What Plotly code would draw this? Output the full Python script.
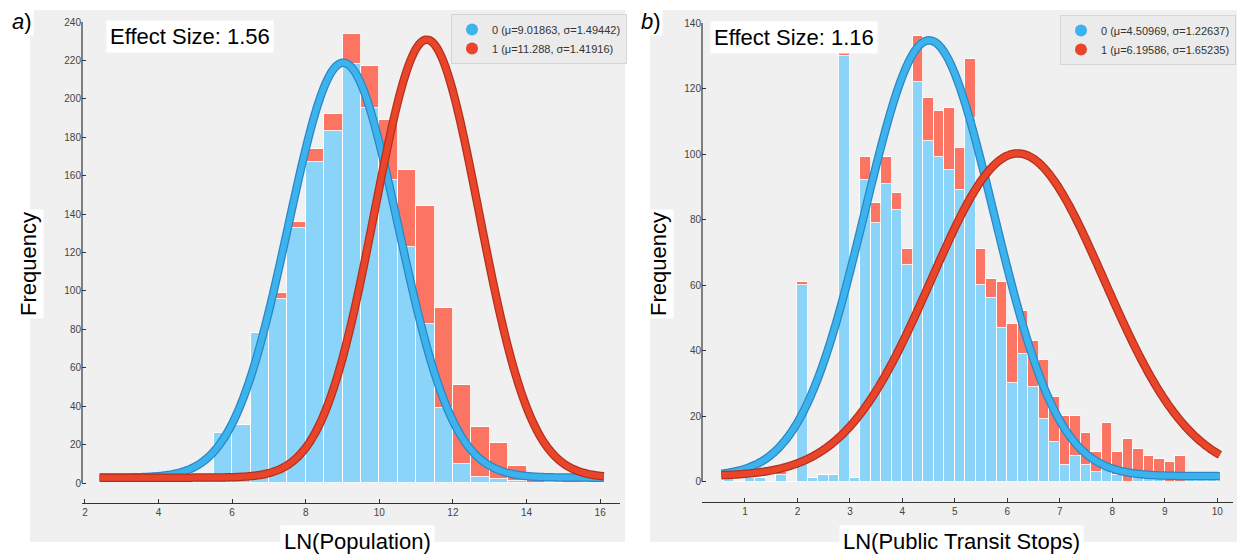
import numpy as np
import plotly.graph_objects as go

W, H = 1237, 556

# ---------------- Panel a: LN(Population) ----------------
a_bin_start = [5.0, 5.5, 6.0, 6.5, 7.0, 7.5, 8.0, 8.5, 9.0, 9.5, 10.0,
               10.5, 11.0, 11.5, 12.0, 12.5, 13.0, 13.5, 14.0, 14.5, 15.0, 15.5]
a_bin_width = 0.5
a_blue = [4, 26, 30, 78, 96, 133, 167, 183, 218, 195, 158,
          123, 83, 39, 10, 3, 2, 1, 0, 0, 0, 1]
a_red = [0, 0, 0, 0, 3, 3, 7, 9, 16, 22, 31,
         40, 61, 52, 41, 26, 19, 8, 2, 0, 1, 0]
a_mu = [9.01863, 11.288]
a_sigma = [1.49442, 1.41916]
a_peak = [216, 228]
a_offset = 2.8
a_curve_range = [2.4, 16.1]
a_xticks = [2, 4, 6, 8, 10, 12, 14, 16]
a_yticks = list(range(0, 241, 20))
a_names = ["0 (\u03bc=9.01863, \u03c3=1.49442)", "1 (\u03bc=11.288, \u03c3=1.41916)"]

# ---------------- Panel b: LN(Public Transit Stops) ----------------
b_bin_start = [0.6, 0.8, 1.0, 1.2, 1.4, 1.6, 1.8, 2.0, 2.2, 2.4, 2.6, 2.8, 3.0,
               3.2, 3.4, 3.6, 3.8, 4.0, 4.2, 4.4, 4.6, 4.8, 5.0, 5.2, 5.4, 5.6,
               5.8, 6.0, 6.2, 6.4, 6.6, 6.8, 7.0, 7.2, 7.4, 7.6, 7.8, 8.0, 8.2,
               8.4, 8.6, 8.8, 9.0, 9.2, 9.4, 9.6, 9.8]
b_bin_width = 0.2
b_blue = [1, 0, 1, 1, 0, 2, 0, 60, 1, 2, 2, 130, 1,
          92, 79, 91, 83, 66, 122, 104, 99, 95, 89, 111, 60, 56,
          47, 30, 39, 29, 19, 12, 5, 8, 5, 3, 4, 2, 0,
          1, 1, 1, 0, 0, 1, 1, 1]
b_red = [0, 0, 0, 0, 0, 1, 0, 1, 0, 0, 0, 1, 0,
         7, 6, 8, 5, 5, 14, 13, 14, 19, 13, 18, 11, 6,
         14, 18, 13, 14, 18, 14, 15, 12, 10, 6, 14, 7, 13,
         9, 7, 6, 6, 8, 0, 0, 0]
b_mu = [4.50969, 6.19586]
b_sigma = [1.22637, 1.65235]
b_peak = [133, 98.5]
b_offset = 1.7
b_curve_range = [0.55, 10.05]
b_xticks = list(range(1, 11))
b_yticks = list(range(0, 141, 20))
b_names = ["0 (\u03bc=4.50969, \u03c3=1.22637)", "1 (\u03bc=6.19586, \u03c3=1.65235)"]

BLUE_BAR = "#8ad4f9"
RED_BAR = "#fc7563"
BLUE_LINE = "#3db3ee"
BLUE_EDGE = "#2a86c4"
RED_LINE = "#e8452b"
RED_EDGE = "#b5301c"
FONT = "Liberation Sans, Arial, sans-serif"

fig = go.Figure()


def add_panel(xa, ya, starts, width, blue, red, mu, sigma, peak, offset, crange, names, legend):
    centers = [s + width / 2 for s in starts]
    fig.add_trace(go.Bar(x=centers, y=blue, width=width, xaxis=xa, yaxis=ya,
                         marker=dict(color=BLUE_BAR, line=dict(color="rgba(255,255,255,0.85)", width=1)),
                         showlegend=False, hoverinfo="skip"))
    fig.add_trace(go.Bar(x=centers, y=red, width=width, xaxis=xa, yaxis=ya,
                         marker=dict(color=RED_BAR, line=dict(color="rgba(255,255,255,0.85)", width=1)),
                         showlegend=False, hoverinfo="skip"))
    xs = np.linspace(crange[0], crange[1], 400)
    for m, s, p, edge, col in [(mu[0], sigma[0], peak[0], BLUE_EDGE, BLUE_LINE),
                               (mu[1], sigma[1], peak[1], RED_EDGE, RED_LINE)]:
        ys = p * np.exp(-(xs - m) ** 2 / (2 * s ** 2)) + offset
        fig.add_trace(go.Scatter(x=xs.tolist(), y=ys.tolist(), mode="lines", xaxis=xa, yaxis=ya,
                                 line=dict(color=edge, width=8.5, simplify=False),
                                 showlegend=False, hoverinfo="skip"))
        fig.add_trace(go.Scatter(x=xs.tolist(), y=ys.tolist(), mode="lines", xaxis=xa, yaxis=ya,
                                 line=dict(color=col, width=6, simplify=False),
                                 showlegend=False, hoverinfo="skip"))
    for nm, col in zip(names, [BLUE_LINE, RED_LINE]):
        fig.add_trace(go.Scatter(x=[None], y=[None], mode="markers", xaxis=xa, yaxis=ya,
                                 marker=dict(size=12, color=col), name=nm, legend=legend))


add_panel("x", "y", a_bin_start, a_bin_width, a_blue, a_red, a_mu, a_sigma, a_peak,
          a_offset, a_curve_range, a_names, "legend")
add_panel("x2", "y2", b_bin_start, b_bin_width, b_blue, b_red, b_mu, b_sigma, b_peak,
          b_offset, b_curve_range, b_names, "legend2")

tickfont = dict(family=FONT, size=10, color="#444")
common_x = dict(ticks="inside", ticklen=4, tickcolor="#333", showline=True, linecolor="#333",
                linewidth=1.2, showgrid=False, zeroline=False, tickfont=tickfont, fixedrange=True)
common_y = dict(ticks="inside", ticklen=4, tickcolor="#333", showline=False,
                showgrid=False, zeroline=False, tickfont=tickfont, fixedrange=True)


def py(pix):
    return 1 - pix / H


def px(pix):
    return pix / W


shapes = [
    dict(type="rect", xref="paper", yref="paper", x0=px(30), x1=px(625), y0=py(542), y1=py(10),
         fillcolor="#f0f0f0", line=dict(width=0), layer="below"),
    dict(type="rect", xref="paper", yref="paper", x0=px(650), x1=px(1237), y0=py(542), y1=py(10),
         fillcolor="#f0f0f0", line=dict(width=0), layer="below"),
    dict(type="line", xref="x domain", yref="y", x0=0, x1=0, y0=0, y1=240,
         line=dict(color="#333", width=1.2)),
    dict(type="line", xref="x2 domain", yref="y2", x0=0, x1=0, y0=0, y1=140,
         line=dict(color="#333", width=1.2)),
]

big = dict(family=FONT, size=22, color="black")


def label(text, x, y, angle=0, pad=3):
    return dict(text=text, x=px(x), y=py(y), xref="paper", yref="paper",
                xanchor="center", yanchor="middle", textangle=angle,
                showarrow=False, font=big, bgcolor="white", borderpad=pad)


annotations = [
    label("Effect Size: 1.56", 190, 36),
    label("Effect Size: 1.16", 794, 37),
    label("Frequency", 29, 264, -90, 2),
    label("Frequency", 659, 264, -90, 2),
    label("LN(Population)", 357, 541),
    label("LN(Public Transit Stops)", 961, 541),
    label("<i>a</i>)", 22, 22, 0, 1),
    label("<i>b</i>)", 651, 22, 0, 1),
]

legend_style = dict(bgcolor="#ebebeb", bordercolor="#d6d6d6", borderwidth=1,
                    font=dict(family=FONT, size=11, color="#333"), traceorder="normal",
                    itemwidth=30, xanchor="left", yanchor="top",
                    itemclick=False, itemdoubleclick=False)

fig.update_layout(
    width=W, height=H, margin=dict(l=0, r=0, t=0, b=0, autoexpand=False),
    paper_bgcolor="white", plot_bgcolor="rgba(0,0,0,0)",
    barmode="stack", bargap=0,
    xaxis=dict(domain=[px(82), px(620)], range=[1.92, 16.54], tickvals=a_xticks, anchor="y", **common_x),
    yaxis=dict(domain=[py(503), py(22)], range=[-10.4, 240], tickvals=a_yticks, anchor="x", **common_y),
    xaxis2=dict(domain=[px(702), px(1233)], range=[0.181, 10.30], tickvals=b_xticks, anchor="y2", **common_x),
    yaxis2=dict(domain=[py(501.7), py(23)], range=[-6.1, 140], tickvals=b_yticks, anchor="x2", **common_y),
    legend=dict(x=px(451), y=py(14), **legend_style),
    legend2=dict(x=px(1060), y=py(15), **legend_style),
    shapes=shapes, annotations=annotations,
)

fig.write_html("out.html", config={"displayModeBar": False},
               post_script="document.body.style.margin='0px';document.body.style.overflow='hidden';")
